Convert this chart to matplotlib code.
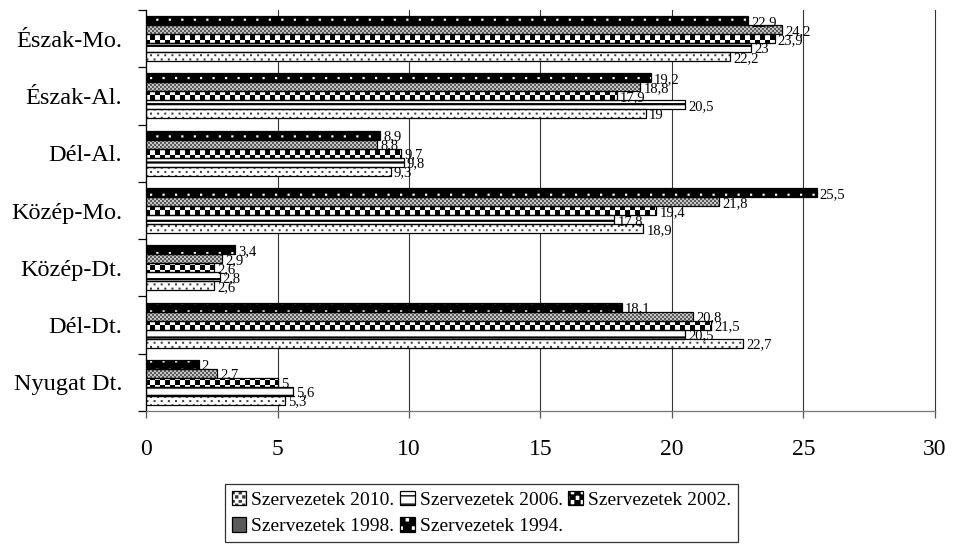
import warnings
warnings.filterwarnings('ignore')
import matplotlib
matplotlib.use("Agg")
import matplotlib.pyplot as plt
import matplotlib.hatch as mhatch
from matplotlib.path import Path
from matplotlib.legend_handler import HandlerTuple
from matplotlib.patches import Patch
import numpy as np

plt.rcParams['font.family'] = ['Liberation Serif', 'DejaVu Serif']

categories = ["Észak-Mo.", "Észak-Al.", "Dél-Al.", "Közép-Mo.", "Közép-Dt.", "Dél-Dt.", "Nyugat Dt."]
series_names = ["Szervezetek 1994.", "Szervezetek 1998.", "Szervezetek 2002.", "Szervezetek 2006.", "Szervezetek 2010."]
v1994 = [22.9, 19.2, 8.9, 25.5, 3.4, 18.1, 2.0]
v1998 = [24.2, 18.8, 8.8, 21.8, 2.9, 20.8, 2.7]
v2002 = [23.9, 17.9, 9.7, 19.4, 2.6, 21.5, 5.0]
v2006 = [23.0, 20.5, 9.8, 17.8, 2.8, 20.5, 5.6]
v2010 = [22.2, 19.0, 9.3, 18.9, 2.6, 22.7, 5.3]
series = [v1994, v1998, v2002, v2006, v2010]
xticks = [0, 5, 10, 15, 20, 25, 30]


# ---- custom fill textures (checkerboard, small dots) as hatch patterns ----
def _checker(n):
    s = 1.0 / n
    return [(i * s, j * s, s, s) for i in range(n) for j in range(n) if (i + j) % 2 == 0]


def _dots(cols, rows, size):
    out = []
    for j in range(rows):
        off = (0.5 / cols) if j % 2 else 0.0
        for i in range(cols):
            x = (i / cols + off) % 1.0
            out.append((x, (j + 0.5) / rows, size, size))
    return out


_TEXTURES = {
    'c': _checker(20),
    'g': _checker(50),
    'd': _dots(8, 12, 0.022),
    'e': _dots(14, 24, 0.02),
}


class _TextureHatch(mhatch.HatchPatternBase):
    def __init__(self, hatch, density):
        rects = []
        for ch, r in _TEXTURES.items():
            if ch in hatch:
                rects += r
        self.rects = rects
        self.num_vertices = 5 * len(rects)
        self.filled = True

    def set_vertices_and_codes(self, vertices, codes):
        for k, (x0, y0, w, h) in enumerate(self.rects):
            vertices[5 * k:5 * k + 5] = [(x0, y0), (x0 + w, y0), (x0 + w, y0 + h), (x0, y0 + h), (x0, y0)]
            codes[5 * k] = Path.MOVETO
            codes[5 * k + 1:5 * k + 4] = Path.LINETO
            codes[5 * k + 4] = Path.CLOSEPOLY


mhatch._hatch_types.append(_TextureHatch)

fig = plt.figure(figsize=(9.54, 5.6), dpi=100)
W, H = 954, 560
L, R, T, B = 146, 935, 10, 411
ax = fig.add_axes([L / W, 1 - B / H, (R - L) / W, (B - T) / H])

styles = [
    dict(fc='black', hatch='d', hc='white', hlw=0.0),
    dict(fc='#c4c4c4', hatch='g', hc='#5a5a5a', hlw=0.0),
    dict(fc='white', hatch='c', hc='black', hlw=0.0),
    dict(fc='white', hatch='--', hc='black', hlw=1.6),
    dict(fc='white', hatch='e', hc='#3a3a3a', hlw=0.0),
]

n = len(categories)
y = np.arange(n)
bh = 0.157
offsets = (np.arange(5) - 2) * bh


def make_layers(st):
    with plt.rc_context({'hatch.linewidth': st['hlw']}):
        base = Patch(facecolor=st['fc'], edgecolor='none', linewidth=0)
        hat = Patch(facecolor='none', edgecolor=st['hc'], hatch=st['hatch'], linewidth=0)
        out = Patch(facecolor='none', edgecolor='black', linewidth=0.9)
    return (base, hat, out)


for i, (vals, st) in enumerate(zip(series, styles)):
    ypos = y + offsets[i]
    ax.barh(ypos, vals, height=bh, color=st['fc'], edgecolor='none', linewidth=0, zorder=2)
    with plt.rc_context({'hatch.linewidth': st['hlw']}):
        hb = ax.barh(ypos, vals, height=bh, facecolor='none', edgecolor=st['hc'],
                     hatch=st['hatch'], linewidth=0, zorder=3)
    for p in hb:
        if hasattr(p, 'set_hatch_linewidth'):
            p.set_hatch_linewidth(st['hlw'])
    ax.barh(ypos, vals, height=bh, facecolor='none', edgecolor='black', linewidth=0.9, zorder=4)
    for yy, v in zip(ypos, vals):
        ax.text(v + 0.12, yy + 0.03, f"{v:g}".replace('.', ','), fontsize=10.5,
                va='center', ha='left', zorder=5)

ax.set_xlim(0, 30)
ax.set_ylim(n - 0.5, -0.5)
ax.set_xticks(xticks)
ax.set_xticklabels([str(t) for t in xticks])
ax.set_yticks(y)
ax.set_yticklabels(categories)
ax.set_yticks(np.arange(n + 1) - 0.5, minor=True)
ax.tick_params(axis='y', which='major', length=0, pad=17, labelsize=17.5)
ax.tick_params(axis='y', which='minor', length=6, width=0.9, color='black')
ax.tick_params(axis='x', which='major', length=5, width=0.9, pad=15, labelsize=17, color='#555555')

ax.xaxis.grid(True, color='#333333', linewidth=0.8)
ax.set_axisbelow(True)
for s in ['top', 'right']:
    ax.spines[s].set_visible(False)
ax.spines['left'].set_color('black')
ax.spines['left'].set_linewidth(0.9)
ax.spines['bottom'].set_color('#777777')
ax.spines['bottom'].set_linewidth(0.9)
for gl in ax.get_xgridlines():
    gl.set_clip_on(False)

# legend (entries ordered so rows read 2010, 2006, 2002 / 1998, 1994)
handles = [make_layers(st) for st in styles]
for hs, st in zip(handles, styles):
    if hasattr(hs[1], 'set_hatch_linewidth'):
        hs[1].set_hatch_linewidth(st['hlw'])
order = [4, 1, 3, 0, 2]
leg = fig.legend([handles[i] for i in order], [series_names[i] for i in order],
                 handler_map={tuple: HandlerTuple(ndivide=1, pad=0)},
                 ncol=3, loc='upper left', bbox_to_anchor=(225 / W, 1 - 484 / H),
                 fontsize=14, frameon=True, fancybox=False, edgecolor='black',
                 handlelength=0.75, handleheight=0.75, handletextpad=0.25,
                 columnspacing=0.3, borderpad=0.35, labelspacing=0.45, borderaxespad=0)
leg.get_frame().set_linewidth(0.9)

fig.savefig("out.png", dpi=100)
